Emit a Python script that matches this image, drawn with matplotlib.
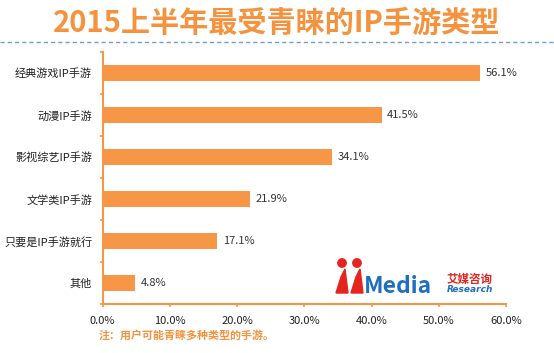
import matplotlib
matplotlib.use("Agg")
import matplotlib.pyplot as plt
from matplotlib.lines import Line2D
from matplotlib.patches import Ellipse, Polygon

plt.rcParams['font.family'] = ['Noto Sans CJK SC', 'DejaVu Sans']

categories = ["经典游戏IP手游", "动漫IP手游", "影视综艺IP手游", "文学类IP手游", "只要是IP手游就行", "其他"]
values = [56.1, 41.5, 34.1, 21.9, 17.1, 4.8]
xticks = [0, 10, 20, 30, 40, 50, 60]
title = "2015上半年最受青睐的IP手游类型"
note = "注：用户可能青睐多种类型的手游。"

orange = "#F79646"
title_col = "#F5923E"

fig = plt.figure(figsize=(5.54, 3.53), dpi=100)
W, H = 554, 353
def fx(px): return px / W
def fy(py): return 1 - py / H

left, right, top, bottom = 102.5, 506, 52, 304
ax = fig.add_axes([fx(left), fy(bottom), (right - left) / W, (bottom - top) / H])

n = len(categories)
ypos = list(range(n))
ax.barh(ypos, values, height=0.38, color=orange, zorder=2)
ax.set_ylim(n - 0.5, -0.5)
ax.set_xlim(0, 60)

for y, v in zip(ypos, values):
    ax.text(v + 0.85, y, f"{v:.1f}%", va="center", ha="left", fontsize=8, color="#333333")

ax.set_yticks(ypos)
ax.set_yticklabels(categories, fontsize=8, color="#222222")
ax.tick_params(axis="y", length=0, pad=7.5)
ax.set_yticks([i - 0.5 for i in range(n + 1)], minor=True)
ax.tick_params(axis="y", which="minor", length=2.5, color=orange, width=1.2)

ax.set_xticks(xticks)
ax.set_xticklabels([f"{t:.1f}%" for t in xticks], fontsize=8, color="#222222")
ax.tick_params(axis="x", length=2.5, color=orange, width=1.2, direction="out", pad=6)

for s in ["top", "right"]:
    ax.spines[s].set_visible(False)
for s in ["left", "bottom"]:
    ax.spines[s].set_color(orange)
    ax.spines[s].set_linewidth(1.5)

fig.text(fx(276.5), fy(32), title, ha="center", va="baseline", fontsize=21, fontweight="bold", color=title_col)
fig.add_artist(Line2D([0, 1], [fy(41.5), fy(41.5)], transform=fig.transFigure,
                      color="#6F9BD8", linestyle=(0, (3, 2.2)), linewidth=1))
fig.text(fx(99), fy(335), note, ha="left", va="center", fontsize=7.9, fontweight="bold", color=title_col)

# logo
red = "#E52420"
blue = "#1F6FC1"
for cx in (342, 357):
    fig.add_artist(Ellipse((fx(cx), fy(263)), 8.4 / W, 8.4 / H, transform=fig.transFigure, color=red))
for x0 in (336, 351):
    fig.add_artist(Polygon([(fx(x0), fy(293)), (fx(x0 + 12), fy(293)), (fx(x0 + 9), fy(269)), (fx(x0 + 5), fy(277))],
                           closed=True, transform=fig.transFigure, color=red))
fig.text(fx(364), fy(293), "Media", ha="left", va="baseline", fontsize=16.5, fontweight="bold", color=blue)
fig.text(fx(447), fy(279), "艾媒咨询", ha="left", va="center", fontsize=8.3, fontweight="bold", color=red)
fig.text(fx(447), fy(290), "Research", ha="left", va="center", fontsize=6.5, fontstyle="italic",
         fontweight="bold", color=blue, family="DejaVu Sans")

fig.savefig("out.png", dpi=100)
